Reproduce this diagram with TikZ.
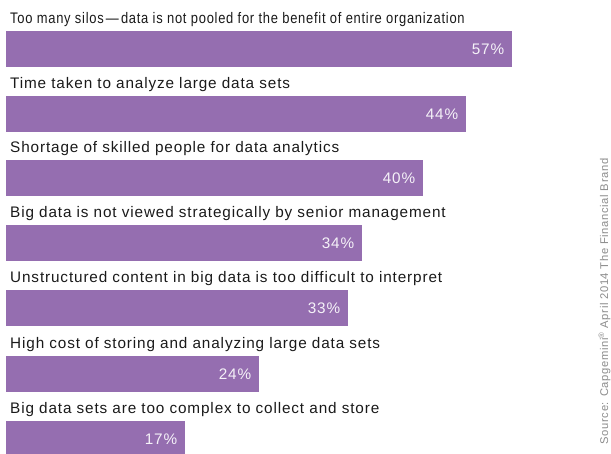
\documentclass[tikz,border=0pt]{standalone}
\usepackage{fontspec}
\usepackage{graphicx}
\setmainfont[LetterSpace=5.7]{Liberation Sans}
\definecolor{barpurple}{RGB}{149,110,176}
\definecolor{labeltext}{RGB}{26,26,26}
\definecolor{pcttext}{RGB}{245,242,248}
\definecolor{srcgray}{RGB}{140,140,140}
\begin{document}
\begin{tikzpicture}[x=1pt,y=-1pt,
  bar/.style={fill=barpurple,draw=none,anchor=north west,inner sep=0pt,minimum height=36pt},
  cat/.style={anchor=base west,inner sep=0pt,text=labeltext,font=\fontsize{15.3}{17}\selectfont},
  pct/.style={anchor=east,inner sep=0pt,text=pcttext,font=\fontsize{15.3}{17}\selectfont},
  src/.style={rotate=90,inner sep=0pt,text=srcgray,font=\fontsize{11.2}{12}\selectfont}]
\useasboundingbox (0,0) rectangle (611,454);
\begin{scope}
\clip (0,0) rectangle (611,454);
\foreach \i/\top/\rt/\p/\t in {
 1/31/512/57\%/{\scalebox{0.845}[1]{Too many silos\,—\,data is not pooled for the benefit of entire organization}},
 2/96/466/44\%/{Time taken to analyze large data sets},
 3/160/423/40\%/{Shortage of skilled people for data analytics},
 4/225/362/34\%/{Big data is not viewed strategically by senior management},
 5/290/348/33\%/{Unstructured content in big data is too difficult to interpret},
 6/356/259/24\%/{High cost of storing and analyzing large data sets},
 7/421/185/17\%/{Big data sets are too complex to collect and store}}{
  \pgfmathsetmacro{\w}{\rt-6}
  \node[bar,minimum width=\w pt] (bar\i) at (6,\top) {};
  \node[cat] (cat\i) at (10,\top-7.5) {\t};
  \node[pct] (pct\i) at ([xshift=-8pt]bar\i.east) {\p};
}
\end{scope}
\node[src] (source) at (604.5,301.5) {Source: Capgemini\textsuperscript{®} April 2014 The Financial Brand};
\end{tikzpicture}
\end{document}
